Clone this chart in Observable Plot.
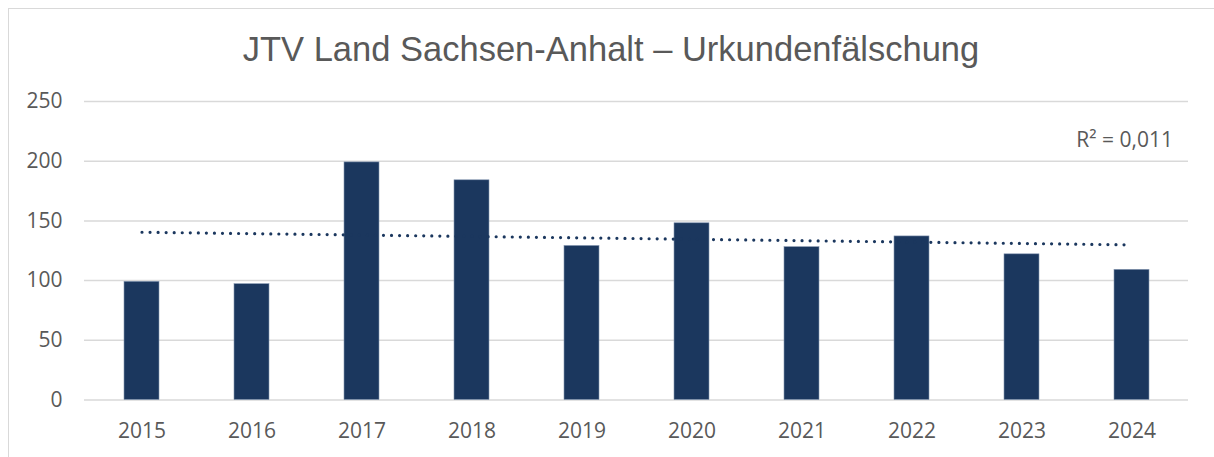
<!DOCTYPE html>
<html>
<head>
<meta charset="utf-8">
<script src="https://cdn.jsdelivr.net/npm/d3@7"></script>
<script src="https://cdn.jsdelivr.net/npm/@observablehq/plot@0.6"></script>
<style>
  html, body { margin: 0; padding: 0; background: #fff; overflow: hidden; width: 1214px; height: 457px; }
  #wrap { position: relative; width: 1214px; height: 457px; }
  #frame { position: absolute; left: 8px; top: 8px; width: 1240px; height: 480px; border: 1px solid #d9d9d9; box-sizing: border-box; }
  #title { position: absolute; left: 4px; width: 1214px; top: 32px; text-align: center; font-family: "Liberation Sans", Arial, sans-serif; font-size: 34.5px; line-height: 1; color: #595959; white-space: nowrap; }
  #r2 { position: absolute; right: 41px; top: 129px; font-family: "Open Sans", sans-serif; font-size: 21px; line-height: 1; color: #595959; white-space: nowrap; }
  #chart { position: absolute; left: 0; top: 0; }
</style>
</head>
<body>
<div id="wrap">
  <div id="frame"></div>
  <div id="chart"></div>
  <div id="title">JTV Land Sachsen-Anhalt – Urkundenfälschung</div>
  <div id="r2">R² = 0,011</div>
</div>
<script>
const years = ["2015", "2016", "2017", "2018", "2019", "2020", "2021", "2022", "2023", "2024"];
const counts = [99, 97, 199, 184, 129, 148, 128, 137, 122, 109];
const yTicks = [0, 50, 100, 150, 200, 250];

const data = years.map((y, i) => ({year: y, value: counts[i]}));

// linear trend (least squares over category index)
const idx = years.map((_, i) => i);
const mx = d3.mean(idx), my = d3.mean(counts);
const slope = d3.sum(idx, i => (i - mx) * (counts[i] - my)) / d3.sum(idx, i => (i - mx) ** 2);
const intercept = my - slope * mx;
const trend = [0, years.length - 1].map(i => ({year: years[i], value: intercept + slope * i}));

const navy = "#1b375e";

const chart = Plot.plot({
  width: 1214,
  height: 457,
  marginLeft: 84,
  marginRight: 26,
  marginTop: 101,
  marginBottom: 57.5,
  style: {fontFamily: "'Open Sans', sans-serif", fontSize: "21px", color: "#595959", background: "transparent"},
  x: {domain: years, paddingInner: 0.686, paddingOuter: 0.343, label: null},
  y: {domain: [0, 250], ticks: yTicks, label: null},
  marks: [
    Plot.gridY(yTicks, {stroke: "#d9d9d9", strokeOpacity: 1, strokeWidth: 1.5}),
    Plot.axisY(yTicks, {tickSize: 0, tickPadding: 22, fontSize: 21, fill: "#595959", label: null}),
    Plot.axisX({tickSize: 0, tickPadding: 23.5, fontSize: 21, fill: "#595959", label: null}),
    Plot.barY(data, {x: "year", y: "value", fill: navy, stroke: "#8496b0", strokeWidth: 0.6}),
    Plot.line(trend, {x: "year", y: "value", stroke: navy, strokeWidth: 3.2, strokeDasharray: "0,8.05", strokeLinecap: "round"})
  ]
});
document.getElementById("chart").appendChild(chart);
</script>
</body>
</html>
